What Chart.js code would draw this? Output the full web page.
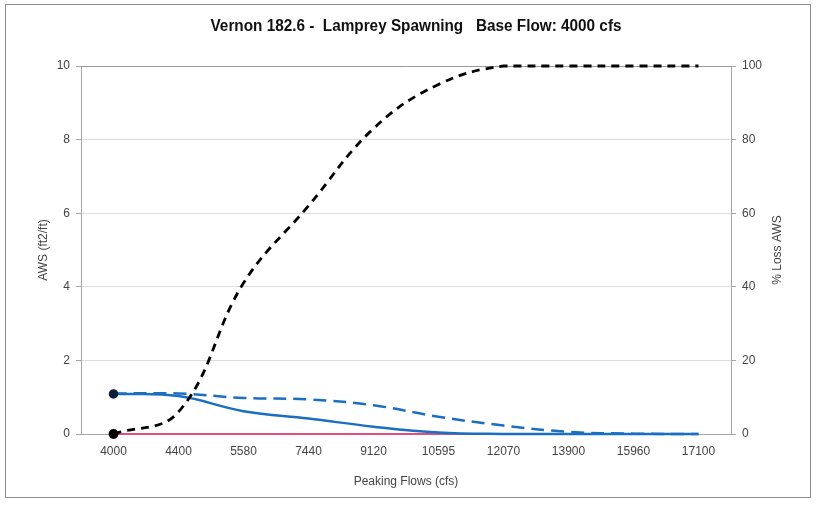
<!DOCTYPE html>
<html>
<head>
<meta charset="utf-8">
<script src="https://cdn.jsdelivr.net/npm/chart.js@4/dist/chart.umd.min.js"></script>
<style>
  html, body { margin: 0; padding: 0; background: #fff; }
  #wrap { width: 818px; height: 505px; position: relative; }
</style>
</head>
<body>
<div id="wrap"><canvas id="c" width="818" height="505"></canvas></div>
<script>
// Peaking flow steps (cfs)
const categories = ['4000', '4400', '5580', '7440', '9120', '10595', '12070', '13900', '15960', '17100'];
// AWS (ft2/ft) under peaking flow
const awsPeak = [1.09, 1.03, 0.62, 0.42, 0.20, 0.04, 0, 0, 0, 0];
// AWS (ft2/ft) at base flow
const awsBase = [1.10, 1.10, 0.98, 0.94, 0.78, 0.47, 0.23, 0.06, 0.01, 0];
// % loss of AWS (right axis)
const pctLoss = [0, 6, 41, 62, 83, 95, 100, 100, 100, 100];
// zero reference lines
const zeroLine = [0, 0, 0, 0, 0, 0, 0, 0, 0, null];
const zeroBase = [0, 0, 0, 0, 0, 0, 0, 0, 0, 0];

const leftTicks = [0, 2, 4, 6, 8, 10];
const rightTicks = [0, 20, 40, 60, 80, 100];

const titleText = 'Vernon 182.6 -  Lamprey Spawning   Base Flow: 4000 cfs';
const xTitle = 'Peaking Flows (cfs)';
const yTitle = 'AWS (ft2/ft)';
const y1Title = '% Loss AWS';

const FONT = '"Liberation Sans", Arial, sans-serif';
const BLUE = '#1b6fc2';

const frame = {
  id: 'frame',
  beforeDraw(chart) {
    const c = chart.ctx;
    c.save();
    c.fillStyle = '#fff';
    c.fillRect(0, 0, chart.width, chart.height);
    c.restore();
  },
  afterDraw(chart) {
    const c = chart.ctx;
    const a = chart.chartArea;
    c.save();
    c.strokeStyle = '#8a8a8a';
    c.lineWidth = 1;
    c.strokeRect(5.5, 4.5, 805, 493);
    // title, condensed to its line width
    c.fillStyle = '#111';
    c.textAlign = 'center';
    c.textBaseline = 'middle';
    c.font = 'bold 16px ' + FONT;
    const w = c.measureText(titleText).width;
    c.save();
    c.translate(416, 27);
    c.scale(Math.min(1, 411 / w), 1);
    c.fillText(titleText, 0, 0);
    c.restore();
    c.fillStyle = '#444';
    c.font = '12px ' + FONT;
    c.fillText(xTitle, (a.left + a.right) / 2, 482);
    c.save();
    c.translate(44, (a.top + a.bottom) / 2);
    c.rotate(-Math.PI / 2);
    c.fillText(yTitle, 0, 0);
    c.restore();
    c.save();
    c.translate(778, (a.top + a.bottom) / 2);
    c.rotate(-Math.PI / 2);
    c.fillText(y1Title, 0, 0);
    c.restore();
    c.restore();
  }
};

new Chart(document.getElementById('c'), {
  type: 'line',
  data: {
    labels: categories,
    datasets: [
      {
        label: 'Zero base',
        data: zeroBase,
        yAxisID: 'y',
        borderColor: '#1a1a1a',
        borderWidth: 2,
        borderDash: [8, 5],
        pointRadius: 0,
        tension: 0,
        clip: 6,
        order: 5
      },
      {
        label: 'Zero',
        data: zeroLine,
        yAxisID: 'y',
        borderColor: '#e0507c',
        borderWidth: 2,
        pointRadius: 0,
        tension: 0,
        clip: 6,
        order: 4
      },
      {
        label: 'AWS base flow',
        data: awsBase,
        yAxisID: 'y',
        borderColor: BLUE,
        borderWidth: 2.5,
        borderDash: [13, 7],
        pointRadius: 0,
        tension: 0.4,
        clip: 6,
        order: 3
      },
      {
        label: 'AWS peaking',
        data: awsPeak,
        yAxisID: 'y',
        borderColor: BLUE,
        borderWidth: 2.5,
        pointRadius: [3.5, 0, 0, 0, 0, 0, 0, 0, 0, 0],
        pointBackgroundColor: '#0d1e38',
        pointBorderColor: '#0d1e38',
        tension: 0.4,
        clip: 6,
        order: 2
      },
      {
        label: '% Loss AWS',
        data: pctLoss,
        yAxisID: 'y1',
        borderColor: '#000',
        borderWidth: 2.8,
        borderDash: [8, 6],
        pointRadius: [3.5, 0, 0, 0, 0, 0, 0, 0, 0, 0],
        pointBackgroundColor: '#000',
        pointBorderColor: '#000',
        tension: 0.4,
        clip: 6,
        order: 1
      }
    ]
  },
  options: {
    responsive: false,
    animation: false,
    layout: { padding: { top: 66, left: 0, right: 0, bottom: 0 } },
    plugins: {
      legend: { display: false },
      title: { display: false },
      tooltip: { enabled: false }
    },
    scales: {
      x: {
        type: 'category',
        offset: true,
        grid: { display: false, drawTicks: false },
        border: { display: true, color: '#a6a6a6', width: 1 },
        ticks: { color: '#444', font: { family: FONT, size: 12 }, padding: 10, maxRotation: 0, autoSkip: false },
        afterFit(s) { s.height = 71; }
      },
      y: {
        position: 'left',
        min: 0,
        max: 10,
        afterBuildTicks(s) { s.ticks = leftTicks.map(v => ({ value: v })); },
        grid: {
          color: ctx => (ctx.tick && ctx.tick.value === 10 ? '#9a9a9a' : '#dcdcdc'),
          tickColor: '#a6a6a6',
          tickLength: 5,
          lineWidth: 1
        },
        border: { display: true, color: '#a6a6a6', width: 1 },
        ticks: { color: '#444', font: { family: FONT, size: 12 }, padding: 6 },
        afterFit(s) { s.width = 81; }
      },
      y1: {
        position: 'right',
        min: 0,
        max: 100,
        afterBuildTicks(s) { s.ticks = rightTicks.map(v => ({ value: v })); },
        grid: { drawOnChartArea: false, tickColor: '#a6a6a6', tickLength: 5 },
        border: { display: true, color: '#a6a6a6', width: 1 },
        ticks: { color: '#444', font: { family: FONT, size: 12 }, padding: 6 },
        afterFit(s) { s.width = 87; }
      }
    }
  },
  plugins: [frame]
});
</script>
</body>
</html>
